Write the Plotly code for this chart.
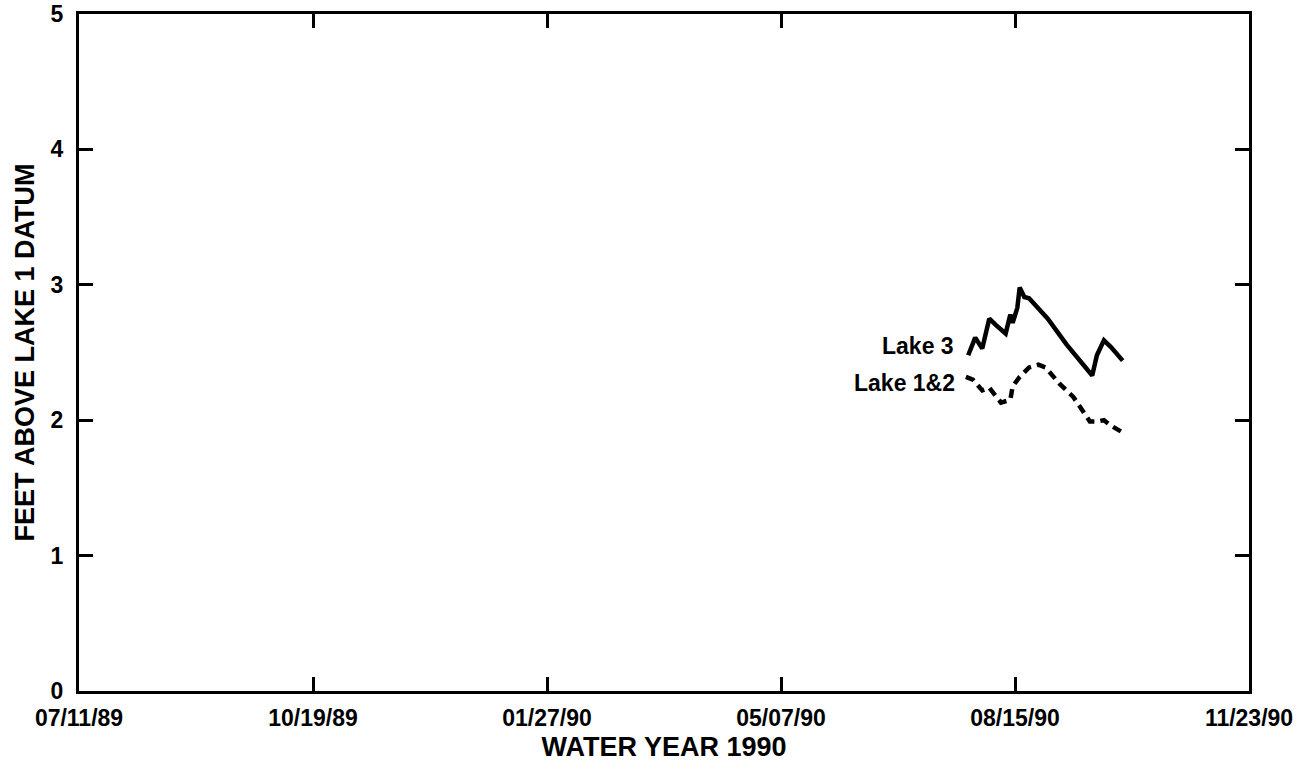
import plotly.graph_objects as go

# Daily lake stage readings, feet above Lake 1 datum
lake3_dates = [
    "1990-07-26", "1990-07-29", "1990-08-01", "1990-08-04", "1990-08-07",
    "1990-08-11", "1990-08-13", "1990-08-14", "1990-08-16", "1990-08-17",
    "1990-08-19", "1990-08-21", "1990-08-29", "1990-09-06", "1990-09-17",
    "1990-09-19", "1990-09-22", "1990-09-25", "1990-09-30",
]
lake3_stage = [
    2.48, 2.61, 2.53, 2.75, 2.70,
    2.64, 2.78, 2.72, 2.83, 2.98,
    2.91, 2.90, 2.75, 2.56, 2.33,
    2.48, 2.59, 2.54, 2.44,
]

lake12_dates = [
    "1990-07-25", "1990-07-28", "1990-08-01", "1990-08-04", "1990-08-09",
    "1990-08-13", "1990-08-14", "1990-08-17", "1990-08-21", "1990-08-25",
    "1990-08-28", "1990-09-03", "1990-09-09", "1990-09-13", "1990-09-16",
    "1990-09-19", "1990-09-22", "1990-09-25", "1990-09-30",
]
lake12_stage = [
    2.32, 2.30, 2.22, 2.24, 2.13,
    2.15, 2.25, 2.32, 2.39, 2.41,
    2.39, 2.27, 2.17, 2.06, 1.99,
    1.99, 2.00, 1.96, 1.91,
]

# Axis ticks every 100 days
tick_dates = ["1989-07-11", "1989-10-19", "1990-01-27", "1990-05-07", "1990-08-15", "1990-11-23"]
tick_labels = ["07/11/89", "10/19/89", "01/27/90", "05/07/90", "08/15/90", "11/23/90"]
y_ticks = [0, 1, 2, 3, 4, 5]

FONT = "Liberation Sans, Arial, Helvetica, sans-serif"

fig = go.Figure()
fig.add_trace(go.Scatter(
    x=lake3_dates, y=lake3_stage, mode="lines",
    line=dict(color="black", width=4.5, shape="linear"),
    name="Lake 3", showlegend=False,
))
fig.add_trace(go.Scatter(
    x=lake12_dates, y=lake12_stage, mode="lines",
    line=dict(color="black", width=4.5, dash="9px,6px"),
    name="Lake 1&2", showlegend=False,
))

# Series labels to the left of the line starts
fig.add_annotation(x=lake3_dates[0], y=lake3_stage[0], text="Lake 3",
                   xanchor="right", yanchor="middle", xshift=-12, yshift=9,
                   showarrow=False,
                   font=dict(family=FONT, size=23, color="black", weight="bold"))
fig.add_annotation(x=lake12_dates[0], y=lake12_stage[0], text="Lake 1&2",
                   xanchor="right", yanchor="middle", xshift=-9, yshift=-6,
                   showarrow=False,
                   font=dict(family=FONT, size=23, color="black", weight="bold"))

axis_common = dict(
    showline=True, linecolor="black", linewidth=3, mirror="ticks",
    ticks="inside", ticklen=14, tickwidth=3, tickcolor="black",
    showgrid=False, zeroline=False, automargin=False,
    tickfont=dict(family=FONT, size=23, color="black", weight="bold"),
)

fig.update_xaxes(
    type="date", range=["1989-07-11", "1990-11-23"],
    tickmode="array", tickvals=tick_dates, ticktext=tick_labels,
    ticklabelstandoff=4,
    title=dict(text="WATER YEAR 1990", standoff=8,
               font=dict(family=FONT, size=27, color="black", weight="bold")),
    **axis_common,
)
fig.update_yaxes(
    range=[0, 5], tickmode="array", tickvals=y_ticks,
    ticklabelstandoff=8,
    title=dict(text="FEET ABOVE LAKE 1 DATUM", standoff=9,
               font=dict(family=FONT, size=27, color="black", weight="bold")),
    **axis_common,
)

fig.update_layout(
    width=1298, height=774,
    margin=dict(l=79, r=49, t=14, b=83),
    paper_bgcolor="white", plot_bgcolor="white",
)

fig.write_html("out.html")
